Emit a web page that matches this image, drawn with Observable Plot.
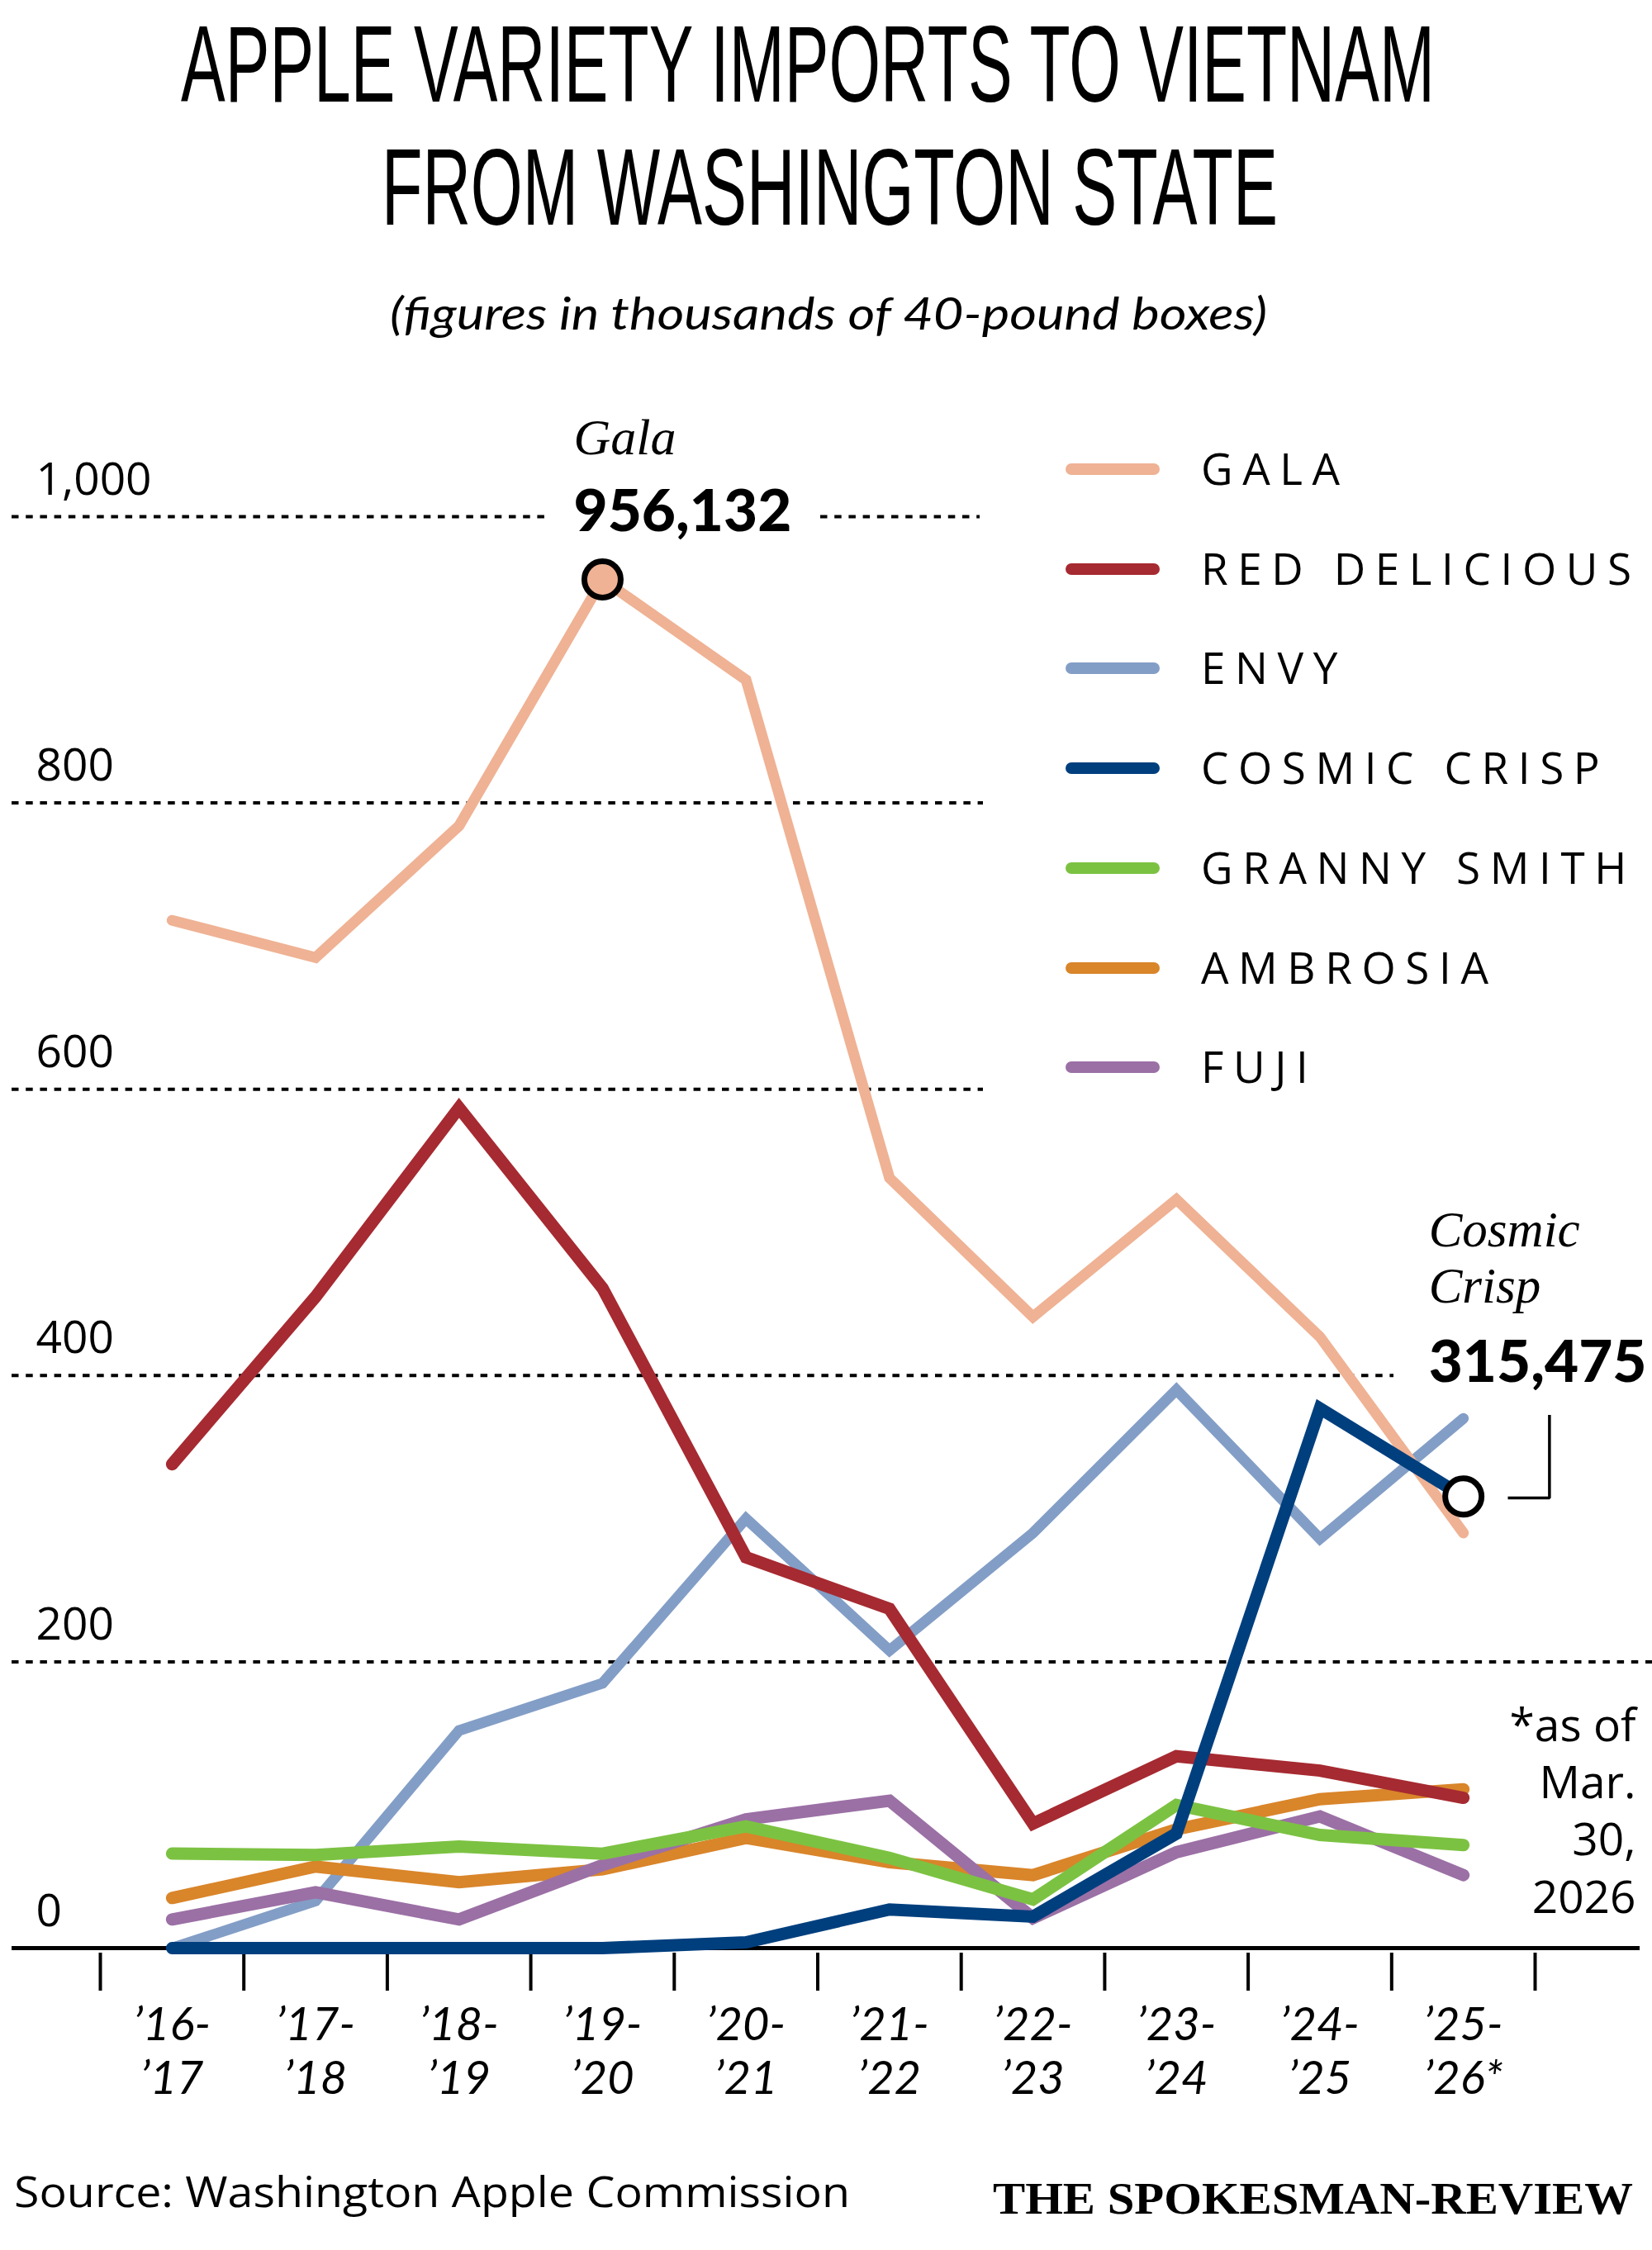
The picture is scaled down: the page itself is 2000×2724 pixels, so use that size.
<!DOCTYPE html>
<html>
<head>
<meta charset="utf-8">
<script src="https://cdn.jsdelivr.net/npm/d3@7"></script>
<script src="https://cdn.jsdelivr.net/npm/@observablehq/plot@0.6"></script>
<style>
  html, body { margin: 0; padding: 0; background: #fff; }
  #root { position: relative; width: 2000px; height: 2724px; overflow: hidden; background: #fff; }
  #chart { position: absolute; left: 0; top: 470px; }
</style>
</head>
<body>
<div id="root"><div id="chart"></div></div>
<script>
// ---------- DATA ----------
const seasons = ["’16-’17", "’17-’18", "’18-’19", "’19-’20", "’20-’21", "’21-’22", "’22-’23", "’23-’24", "’24-’25", "’25-’26*"];
const varieties = ["Gala", "Red Delicious", "Envy", "Cosmic Crisp", "Granny Smith", "Ambrosia", "Fuji"];
const varietyColors = ["#efb294", "#a62a31", "#839ec6", "#003f7e", "#7cc242", "#d9852a", "#9b70a5"];

// thousands of 40-pound boxes
const gala         = [718, 692, 784, 956.132, 886, 538, 441, 523, 427, 290];
const redDelicious = [338, 455, 587, 461, 273, 237, 87, 134, 124, 105];
const envy         = [0, 33, 152, 185, 300, 208, 290, 390, 286, 370];
const cosmicCrisp  = [0, 0, 0, 0, 4, 27, 22, 80, 377, 315.475];
const grannySmith  = [66, 65, 71, 66, 85, 63, 34, 100, 79, 72];
const ambrosia     = [35, 57, 46, 55, 77, 60, 51, 83, 104, 111];
const fuji         = [20, 39, 20, 58, 90, 103, 21, 67, 92, 51];

const yTicks = [0, 200, 400, 600, 800, 1000];
const asOfNote = "*as of\nMar.\n30,\n2026";

// ---------- TABLES ----------
const seriesList = [gala, redDelicious, envy, cosmicCrisp, grannySmith, ambrosia, fuji];
const rows = varieties.flatMap((v, k) => seriesList[k].map((value, i) => ({variety: v, i, season: seasons[i], value})));
const drawOrder = ["Envy", "Gala", "Ambrosia", "Fuji", "Granny Smith", "Red Delicious", "Cosmic Crisp"];
const lineWidth = v => (v === "Gala" || v === "Envy") ? 13 : 15;
const colorOf = v => varietyColors[varieties.indexOf(v)];
const boundaries = d3.range(seasons.length + 1).map(i => i - 0.5);

const galaPeakIdx = d3.maxIndex(gala);
const galaPeak = [{i: galaPeakIdx, value: gala[galaPeakIdx]}];
const lastIdx = seasons.length - 1;
const cosmicLast = [{i: lastIdx, value: cosmicCrisp[lastIdx]}];
const fmtBoxes = v => d3.format(",")(Math.round(v * 1000));
const leader = [[lastIdx + 0.31, cosmicCrisp[lastIdx] - 1], [lastIdx + 0.6, cosmicCrisp[lastIdx] - 1], [lastIdx + 0.6, cosmicCrisp[lastIdx] + 57]];

const SANS = "'Open Sans', Lato, sans-serif";
const NARROW = "Lato, 'Open Sans', sans-serif";
const SERIF = "'Liberation Serif', 'DejaVu Serif', serif";
const grid = {stroke: "#000", strokeWidth: 4, strokeDasharray: "8.5,8.7"};

// ---------- PLOT ----------
const svg = Plot.plot({
  width: 2000,
  height: 2130,
  marginTop: 155,
  marginBottom: 242,
  marginLeft: 121,
  marginRight: 142,
  style: {background: "transparent", overflow: "visible"},
  x: {type: "linear", domain: [-0.5, seasons.length - 0.5], label: null},
  y: {domain: [0, 1000], axis: null, label: null},
  color: {domain: varieties, range: varietyColors},
  marks: [
    Plot.ruleY([200], {...grid, insetLeft: -107, insetRight: -142}),
    Plot.ruleY([400], {...grid, insetLeft: -107, insetRight: 171}),
    Plot.ruleY([600, 800], {...grid, insetLeft: -107, insetRight: 668}),
    Plot.ruleY([1000], {...grid, insetLeft: -107, insetRight: 1193}),
    Plot.ruleY([1000], {...grid, insetLeft: 872, insetRight: 672}),
    Plot.ruleY([0], {stroke: "#000", strokeWidth: 5, insetLeft: -107, insetRight: -127}),
    Plot.axisX({ticks: boundaries, tickSize: 46, tickFormat: () => "", label: null, stroke: "#000", strokeWidth: 4, dy: 6}),
    ...drawOrder.map(v => Plot.line(rows.filter(d => d.variety === v), {
      x: "i", y: "value", stroke: "variety",
      strokeWidth: lineWidth(v), strokeLinecap: "round", strokeLinejoin: "miter", strokeMiterlimit: 4
    })),
    Plot.line(leader, {x: d => d[0], y: d => d[1], stroke: "#000", strokeWidth: 3.5, strokeLinejoin: "miter", strokeLinecap: "butt"}),
    Plot.dot(galaPeak, {x: "i", y: "value", r: 22, fill: colorOf("Gala"), stroke: "#000", strokeWidth: 7}),
    Plot.dot(cosmicLast, {x: "i", y: "value", r: 22, fill: "#fff", stroke: "#000", strokeWidth: 7}),
    // annotations
    Plot.text(galaPeak, {x: "i", y: "value", text: () => "Gala", dx: -35, dy: -152, textAnchor: "start", lineAnchor: "bottom",
      fontFamily: SERIF, fontStyle: "italic", fontSize: 62, fill: "#000"}),
    Plot.text(galaPeak, {x: "i", y: "value", text: d => fmtBoxes(d.value), dx: -35, dy: -59, textAnchor: "start", lineAnchor: "bottom",
      fontFamily: "Lato, sans-serif", fontWeight: 900, fontSize: 71, fill: "#000"}),
    Plot.text(cosmicLast, {x: "i", y: "value", text: () => "Cosmic", dx: -42, dy: -303, textAnchor: "start", lineAnchor: "bottom",
      fontFamily: SERIF, fontStyle: "italic", fontSize: 61, fill: "#000"}),
    Plot.text(cosmicLast, {x: "i", y: "value", text: () => "Crisp", dx: -42, dy: -235, textAnchor: "start", lineAnchor: "bottom",
      fontFamily: SERIF, fontStyle: "italic", fontSize: 61, fill: "#000"}),
    Plot.text(cosmicLast, {x: "i", y: "value", text: d => fmtBoxes(d.value), dx: -42, dy: -139, textAnchor: "start", lineAnchor: "bottom",
      fontFamily: "Lato, sans-serif", fontWeight: 900, fontSize: 71, fill: "#000"}),
    Plot.text([asOfNote], {frameAnchor: "bottom-right", dx: 122, dy: -43, textAnchor: "end", lineAnchor: "bottom",
      lineHeight: 1.26, fontFamily: SANS, fontSize: 55, fill: "#000"}),
    // y tick labels
    Plot.text(yTicks, {y: d => d, text: d => d3.format(",")(d), frameAnchor: "left", dx: -78, dy: -27, textAnchor: "start",
      lineAnchor: "bottom", fontFamily: SANS, fontSize: 55, fill: "#000"}),
    // x labels (two lines each)
    Plot.text(seasons, {x: (d, i) => i, text: d => d.split("-")[0] + "-", frameAnchor: "bottom", dy: 111, textAnchor: "middle",
      lineAnchor: "bottom", fontFamily: NARROW, fontStyle: "italic", fontSize: 56, fill: "#000"}),
    Plot.text(seasons, {x: (d, i) => i, text: d => d.split("-")[1], frameAnchor: "bottom", dy: 176, textAnchor: "middle",
      lineAnchor: "bottom", fontFamily: NARROW, fontStyle: "italic", fontSize: 56, fill: "#000"})
  ]
});
document.getElementById("chart").append(svg);

// ---------- HTML TEXT ----------
const root = document.getElementById("root");
function placeText(o) {
  const d = document.createElement("div");
  d.style.cssText = `position:absolute;left:0;top:0;white-space:nowrap;line-height:1;font-family:${o.font};font-size:${o.size}px;font-weight:${o.weight || 400};font-style:${o.style || "normal"};letter-spacing:${o.ls || 0}px;color:#000`;
  const s = document.createElement("span");
  s.style.display = "inline-block";
  s.style.transformOrigin = "0 0";
  s.textContent = o.text;
  const m = document.createElement("span");
  m.style.cssText = "display:inline-block;width:0;height:0;vertical-align:baseline";
  d.append(s, m);
  root.append(d);
  const w = s.getBoundingClientRect().width - (o.ls || 0);
  const k = o.width ? o.width / w : 1;
  s.style.transform = `scaleX(${k})`;
  const W = w * k;
  const left = o.anchor === "middle" ? o.x - W / 2 : o.anchor === "end" ? o.x - W : o.x;
  d.style.left = left + "px";
  d.style.top = (o.baseline - m.offsetTop) + "px";
  return d;
}
function measure(text, font, size, weight) {
  const s = document.createElement("span");
  s.style.cssText = `position:absolute;white-space:nowrap;font-family:${font};font-size:${size}px;font-weight:${weight || 400}`;
  s.textContent = text;
  root.append(s);
  const w = s.getBoundingClientRect().width;
  s.remove();
  return w;
}

const TITLE = "'Liberation Sans', Arimo, Roboto, sans-serif";
placeText({text: "APPLE VARIETY IMPORTS TO VIETNAM", font: TITLE, size: 132, x: 978, anchor: "middle", width: 1518, baseline: 123});
placeText({text: "FROM WASHINGTON STATE", font: TITLE, size: 132, x: 1004, anchor: "middle", width: 1085, baseline: 272});
placeText({text: "(figures in thousands of 40-pound boxes)", font: NARROW, size: 54, style: "italic", x: 1003, anchor: "middle", width: 1062, baseline: 399});

// legend
const legendSize = 53;
const ref = "RED DELICIOUS";
const ls = (521 - measure(ref, SANS, legendSize)) / (ref.length - 1);
varieties.forEach((v, k) => {
  const cy = 568 + k * 120.7;
  const sw = document.createElement("div");
  sw.style.cssText = `position:absolute;left:1290px;top:${cy - 7}px;width:114px;height:14px;border-radius:7px;background:${varietyColors[k]}`;
  root.append(sw);
  placeText({text: v.toUpperCase(), font: SANS, size: legendSize, ls, x: 1454, baseline: cy + 19});
});

placeText({text: "Source: Washington Apple Commission", font: SANS, size: 52, x: 17, width: 1012, baseline: 2672});
placeText({text: "THE SPOKESMAN-REVIEW", font: SERIF, size: 54, weight: 700, x: 1977, anchor: "end", width: 775, baseline: 2680});
</script>
</body>
</html>
